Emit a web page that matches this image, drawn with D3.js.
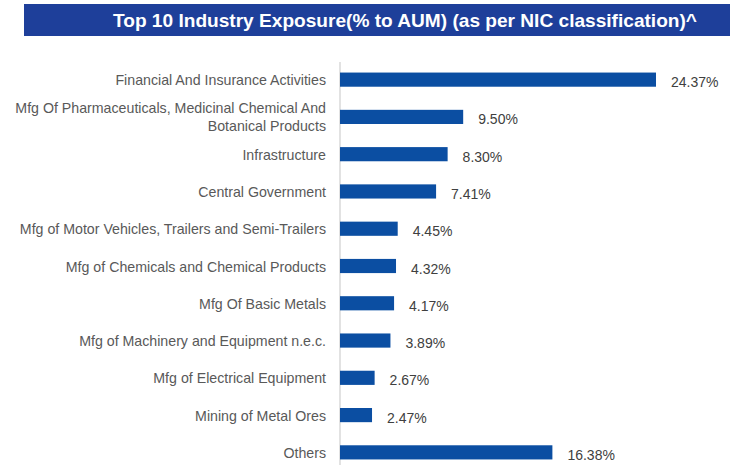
<!DOCTYPE html>
<html><head><meta charset="utf-8">
<script src="https://cdn.jsdelivr.net/npm/d3@7"></script>
<style>body{margin:0;background:#fff;} svg{display:block;}</style>
</head><body>
<script>
const categories = [
  "Financial And Insurance Activities",
  "Mfg Of Pharmaceuticals, Medicinal Chemical And|Botanical Products",
  "Infrastructure",
  "Central Government",
  "Mfg of Motor Vehicles, Trailers and Semi-Trailers",
  "Mfg of Chemicals and Chemical Products",
  "Mfg Of Basic Metals",
  "Mfg of Machinery and Equipment n.e.c.",
  "Mfg of Electrical Equipment",
  "Mining of Metal Ores",
  "Others"
];
const values = [24.37, 9.50, 8.30, 7.41, 4.45, 4.32, 4.17, 3.89, 2.67, 2.47, 16.38];
const title = "Top 10 Industry Exposure(% to AUM) (as per NIC classification)^";

const W = 750, H = 465;
const svg = d3.select("body").append("svg").attr("width", W).attr("height", H);

svg.append("rect").attr("x", 24).attr("y", 4).attr("width", 706).attr("height", 32).attr("fill", "#1e3f9a");
svg.append("text").attr("x", 405).attr("y", 27).attr("text-anchor", "middle")
  .attr("fill", "#fff").attr("font-family", "Liberation Sans, Arial, sans-serif")
  .attr("font-weight", "bold").attr("font-size", 19).attr("textLength", 584).attr("lengthAdjust", "spacingAndGlyphs").text(title);

const x0 = 340;
const x = d3.scaleLinear().domain([0, 24.37]).range([x0, 656]);
const y = d3.scaleBand().domain(d3.range(categories.length)).range([61, 471]).paddingInner(0.62).paddingOuter(0.31);

svg.append("line").attr("x1", x0).attr("x2", x0).attr("y1", 62).attr("y2", H)
  .attr("stroke", "#d9d9d9").attr("stroke-width", 1.5);

svg.selectAll("rect.bar").data(values).enter().append("rect").attr("class", "bar")
  .attr("x", x0).attr("y", (d, i) => y(i)).attr("width", d => x(d) - x0).attr("height", y.bandwidth())
  .attr("fill", "#0b4ea2");

svg.selectAll("text.val").data(values).enter().append("text").attr("class", "val")
  .attr("x", d => x(d) + 15).attr("y", (d, i) => y(i) + y.bandwidth() / 2 + 7.5)
  .attr("font-family", "Liberation Sans, Arial, sans-serif").attr("font-size", 14)
  .attr("fill", "#404040").text(d => d.toFixed(2) + "%");

const lab = svg.selectAll("text.cat").data(categories).enter().append("text").attr("class", "cat")
  .attr("text-anchor", "end").attr("font-family", "Liberation Sans, Arial, sans-serif")
  .attr("font-size", 14.2).attr("fill", "#595959");
lab.each(function (d, i) {
  const parts = d.split("|");
  const cy = y(i) + y.bandwidth() / 2;
  const lh = 18;
  const start = cy + 5.5 - (parts.length - 1) * lh / 2;
  parts.forEach((p, k) => {
    d3.select(this).append("tspan").attr("x", 326).attr("y", start + k * lh).text(p);
  });
});
</script>
</body></html>
